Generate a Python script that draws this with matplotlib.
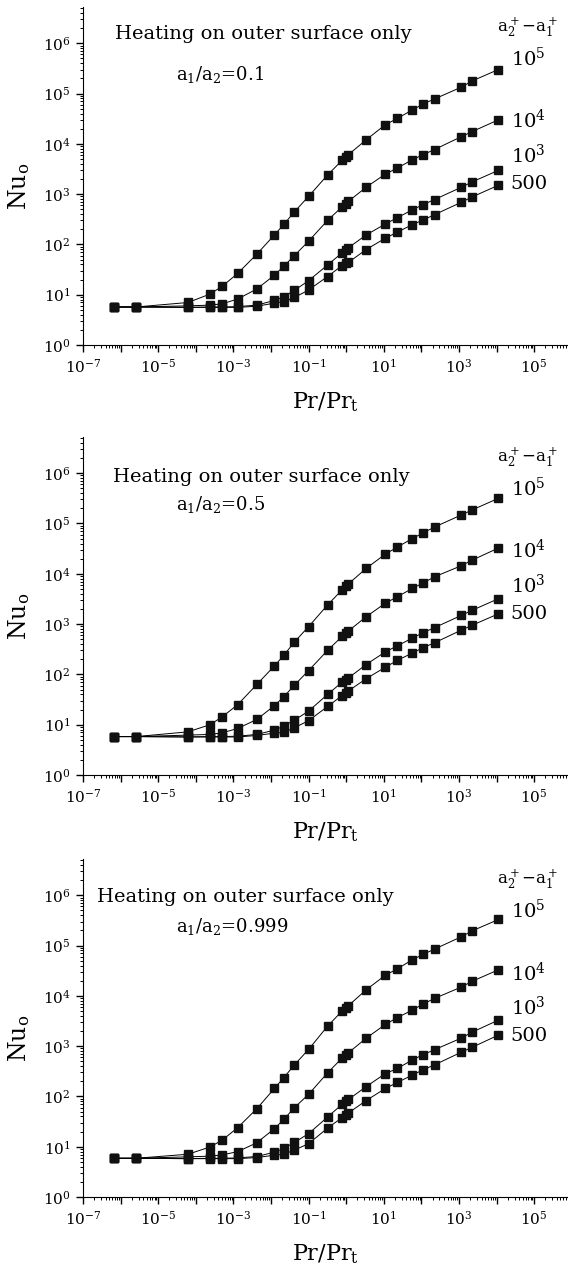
import numpy as np
import matplotlib
matplotlib.use("Agg")
import matplotlib.pyplot as plt
from matplotlib.ticker import FixedLocator, LogLocator, FuncFormatter, NullFormatter, LogFormatterMathtext

plt.rcParams['font.family'] = ['DejaVu Serif']
plt.rcParams['mathtext.fontset'] = 'dejavuserif'

# Pr/Pr_t values shared by all curves
pr = [6.5e-7, 2.6e-6, 6.2e-5, 2.4e-4, 5.1e-4, 1.3e-3, 4.2e-3, 1.24e-2, 2.2e-2,
      4.2e-2, 0.1, 0.32, 0.78, 0.96, 1.15, 3.4, 11, 23, 57, 112, 224, 1160, 2250, 11200]

# panel 1: a1/a2 = 0.1
p1_1e5 = [5.7, 5.7, 7.0, 10.3, 14.8, 26.5, 64, 155, 250, 445, 900, 2400, 4700, 5500, 6100,
          12000, 24000, 32000, 47000, 62000, 78000, 134000, 178000, 300000]
p1_1e4 = [5.7, 5.7, 6.0, 6.2, 6.6, 8.2, 13, 24.5, 37, 60, 116, 300, 560, 640, 720,
          1370, 2500, 3300, 4800, 6100, 7700, 13900, 17500, 30000]
p1_1e3 = [5.7, 5.7, 5.6, 5.7, 5.7, 5.8, 6.2, 7.7, 9.2, 12.2, 19, 39, 68, 79, 86,
          154, 255, 340, 485, 620, 780, 1370, 1750, 2970]
p1_500 = [5.7, 5.7, 5.6, 5.6, 5.6, 5.6, 5.9, 6.8, 7.3, 8.8, 12.4, 23, 38, 42, 44,
          79, 133, 175, 247, 306, 390, 690, 880, 1500]

# panel 2: a1/a2 = 0.5
p2_1e5 = [5.8, 5.8, 7.2, 10, 14.4, 25, 63, 148, 240, 440, 890, 2400, 4800, 5700, 6300,
          12800, 24600, 34000, 50000, 65000, 85000, 148000, 186000, 317000]
p2_1e4 = [5.8, 5.8, 6.2, 6.4, 6.9, 8.4, 12.7, 24, 36, 61, 119, 300, 570, 650, 730,
          1400, 2600, 3500, 5100, 6600, 8700, 14500, 18700, 32500]
p2_1e3 = [5.8, 5.8, 5.7, 5.8, 5.8, 5.9, 6.4, 7.8, 9.4, 12.3, 18.6, 40, 70, 79, 85,
          157, 280, 370, 525, 675, 850, 1490, 1880, 3200]
p2_500 = [5.8, 5.8, 5.7, 5.7, 5.7, 5.7, 6.1, 6.8, 7.0, 8.7, 12, 23, 38, 42, 47,
          82, 139, 190, 265, 340, 425, 760, 950, 1600]

# panel 3: a1/a2 = 0.999
p3_1e5 = [5.9, 5.9, 7.1, 9.9, 13.6, 24, 57, 145, 237, 425, 860, 2500, 5000, 5800, 6400,
          13200, 25700, 34500, 52000, 67000, 85000, 150000, 196000, 330000]
p3_1e4 = [5.9, 5.9, 6.3, 6.5, 6.9, 8.0, 12, 23, 35, 60, 110, 295, 580, 660, 740,
          1440, 2700, 3700, 5200, 6900, 8900, 15000, 19500, 33000]
p3_1e3 = [5.9, 5.9, 5.8, 5.9, 5.9, 6.0, 6.4, 7.8, 9.3, 12.2, 18.2, 39, 70, 80, 87,
          157, 285, 360, 530, 680, 850, 1450, 1900, 3300]
p3_500 = [5.9, 5.9, 5.8, 5.8, 5.8, 5.8, 6.1, 6.8, 7.1, 8.6, 11.5, 23.5, 38, 43, 47,
          83, 144, 190, 265, 340, 425, 760, 950, 1660]

curve_labels = [r'$10^5$', r'$10^4$', r'$10^3$', '500']
label_y = [10**5.7, 10**4.46, 10**3.77, 10**3.2]
ratio_texts = [r'a$_1$/a$_2$=0.1', r'a$_1$/a$_2$=0.5', r'a$_1$/a$_2$=0.999']

panels = [
    (0.7292, [p1_1e5, p1_1e4, p1_1e3, p1_500], (10**-6.15, 10**6.18), (10**-4.53, 10**5.38)),
    (0.3917, [p2_1e5, p2_1e4, p2_1e3, p2_500], (10**-6.2, 10**5.93), (10**-4.53, 10**5.38)),
    (0.0604, [p3_1e5, p3_1e4, p3_1e3, p3_500], (10**-6.62, 10**5.97), (10**-4.53, 10**5.37)),
]

fig = plt.figure(figsize=(5.68, 12.74), dpi=100)

for i, (bottom, series, heat_pos, ratio_pos) in enumerate(panels):
    ax = fig.add_axes([0.1461, bottom, 0.8539, 0.2653])
    for s in series:
        ax.plot(pr, s, color='black', lw=0.7, marker='s', ms=5.2, mfc='#111111', mec='#111111')
    ax.set_xscale('log')
    ax.set_yscale('log')
    ax.set_xlim(1e-7, 10**5.9)
    ax.set_ylim(1, 10**6.72)
    ax.spines['top'].set_visible(False)
    ax.spines['right'].set_visible(False)

    ax.xaxis.set_major_locator(FixedLocator([10.0**k for k in range(-7, 6)]))
    ax.xaxis.set_major_formatter(FuncFormatter(
        lambda v, p: r'$10^{%d}$' % round(np.log10(v)) if round(np.log10(v)) % 2 != 0 else ''))
    ax.xaxis.set_minor_locator(LogLocator(base=10, subs=np.arange(2, 10), numticks=40))
    ax.xaxis.set_minor_formatter(NullFormatter())
    ax.yaxis.set_major_locator(FixedLocator([10.0**k for k in range(0, 7)]))
    ax.yaxis.set_major_formatter(LogFormatterMathtext())
    ax.yaxis.set_minor_locator(LogLocator(base=10, subs=np.arange(2, 10), numticks=40))
    ax.yaxis.set_minor_formatter(NullFormatter())
    ax.tick_params(which='major', direction='out', length=5, width=1, labelsize=11, pad=4)
    ax.tick_params(which='minor', direction='out', length=2.5, width=0.7)

    ax.set_ylabel(r'Nu$_\mathrm{o}$', fontsize=17)
    ax.yaxis.set_label_coords(-0.105, 0.47)
    ax.set_xlabel(r'Pr/Pr$_\mathrm{t}$', fontsize=16)
    ax.xaxis.set_label_coords(0.5, -0.135)

    ax.text(heat_pos[0], heat_pos[1], 'Heating on outer surface only', fontsize=14,
            ha='left', va='center')
    ax.text(ratio_pos[0], ratio_pos[1], ratio_texts[i], fontsize=13, ha='left', va='center')
    ax.text(10**4.0, 10**6.32, r'a$_2^+$$-$a$_1^+$', fontsize=12, ha='left', va='center')
    for lab, ly in zip(curve_labels, label_y):
        ax.text(10**4.38, ly, lab, fontsize=14, ha='left', va='center')

fig.savefig('out.png', dpi=100)
